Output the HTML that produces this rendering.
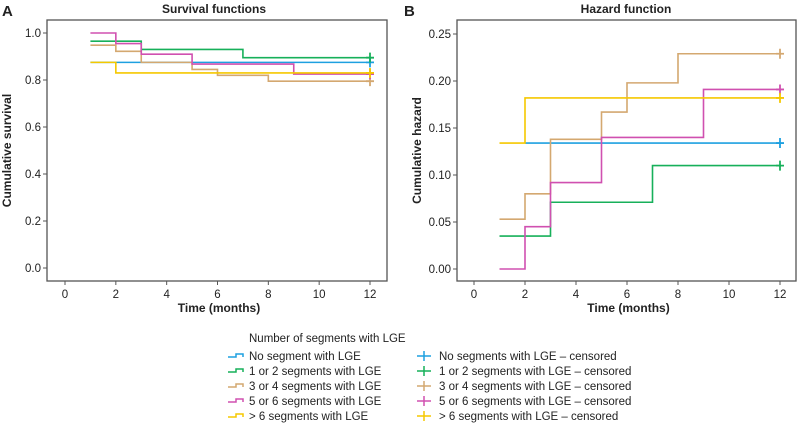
<!DOCTYPE html>
<html><head><meta charset="utf-8"><style>
body{margin:0;background:#fff;}
svg text{font-family:"Liberation Sans Narrow","Liberation Sans",sans-serif;fill:#222;}
</style></head><body>
<svg id="c" width="797" height="425" xmlns="http://www.w3.org/2000/svg">
<text x="2" y="16" font-size="15" font-weight="bold">A</text>
<text x="214" y="13" font-size="12" font-weight="bold" text-anchor="middle">Survival functions</text>
<text x="404" y="16" font-size="15" font-weight="bold">B</text>
<text x="626" y="13" font-size="12" font-weight="bold" text-anchor="middle">Hazard function</text>
<g id="gA"></g>
<g id="gB"></g>
<g id="leg">
<text x="249" y="342" font-size="11.5">Number of segments with LGE</text>
</g>
</svg>
<script>
const colors=['#1ea0e0','#17b05a','#d4a870','#d050b0','#f5c800'];
const names=['No segment with LGE','1 or 2 segments with LGE','3 or 4 segments with LGE','5 or 6 segments with LGE','> 6 segments with LGE'];
const censNames=['No segments with LGE – censored','1 or 2 segments with LGE – censored','3 or 4 segments with LGE – censored','5 or 6 segments with LGE – censored','> 6  segments with LGE – censored'];
const xTicks=[0,2,4,6,8,10,12];
const survTicks=[0.0,0.2,0.4,0.6,0.8,1.0];
const hazTicks=[0.00,0.05,0.10,0.15,0.20,0.25];
const survBlueT=[1,12], survBlueV=[0.875,0.875];
const survGreenT=[1,3,7,12], survGreenV=[0.965,0.93,0.895,0.895];
const survTanT=[1,2,3,5,6,8,12], survTanV=[0.948,0.922,0.875,0.845,0.82,0.795,0.795];
const survPinkT=[1,2,3,5,9,12], survPinkV=[1.0,0.955,0.91,0.868,0.825,0.825];
const survYellowT=[1,2,12], survYellowV=[0.875,0.83,0.83];
const hazBlueT=[2,12], hazBlueV=[0.134,0.134];
const hazGreenT=[1,3,7,12], hazGreenV=[0.035,0.071,0.110,0.110];
const hazTanT=[1,2,3,5,6,8,12], hazTanV=[0.053,0.080,0.138,0.167,0.198,0.229,0.229];
const hazPinkT=[1,2,3,5,9,12], hazPinkV=[0.0,0.045,0.092,0.140,0.191,0.191];
const hazYellowT=[1,2,12], hazYellowV=[0.134,0.182,0.182];
const NS='http://www.w3.org/2000/svg';
function mk(tag,attrs,parent){const e=document.createElementNS(NS,tag);for(const k in attrs)e.setAttribute(k,attrs[k]);parent.appendChild(e);return e;}
function chart(g,box,x0,x12,yTop,yBot,yMax,ticks,dec,ylabel,series){
  const X=v=>x0+(x12-x0)*v/12, Y=v=>yBot-(yBot-yTop)*v/yMax;
  const r=mk('rect',{x:box[0],y:box[1],width:box[2]-box[0],height:box[3]-box[1],fill:'none',stroke:'#555','stroke-width':1.3},g);
  
  
  xTicks.forEach(t=>{
    const l=mk('line',{x1:X(t),x2:X(t),y1:box[3],y2:box[3]+4,stroke:'#555'},g);
    
    
    const tx=mk('text',{x:X(t),y:box[3]+17,'font-size':11.5,'text-anchor':'middle'},g);tx.textContent=t;
    
    
  });
  ticks.forEach(t=>{
    const l=mk('line',{x1:box[0]-4,x2:box[0],y1:Y(t),y2:Y(t),stroke:'#555'},g);
    
    
    const tx=mk('text',{x:box[0]-6,y:Y(t)+4,'font-size':11.5,'text-anchor':'end'},g);tx.textContent=t.toFixed(dec);
    
    
  });
  const xt=mk('text',{x:(box[0]+box[2])/2+2,y:box[3]+31,'font-size':12,'font-weight':'bold','text-anchor':'middle'},g);xt.textContent='Time (months)';
  
  
  const cy=(box[1]+box[3])/2, cx=box[0]-36;
  const yt=mk('text',{x:cx,y:cy,'font-size':12,'font-weight':'bold','text-anchor':'middle',transform:`rotate(-90 ${cx} ${cy})`},g);yt.textContent=ylabel;
  
  
  series.forEach(([T,V,c])=>{
    let d='M'+X(T[0])+' '+Y(V[0]);
    for(let i=1;i<T.length;i++){d+=' H'+X(T[i])+' V'+Y(V[i]);}
    const p=mk('path',{d:d,fill:'none',stroke:c,'stroke-width':1.6},g);
    
    
    const ex=X(T[T.length-1]), ey=Y(V[V.length-1]);
    const m=mk('path',{d:`M${ex-4} ${ey} H${ex+4} M${ex} ${ey-5} V${ey+5}`,stroke:c,'stroke-width':1.8},g);
    
    
  });
}
chart(document.getElementById('gA'),[47,20,387,281],65,370,33,268,1.0,survTicks,1,'Cumulative survival',
 [[survBlueT,survBlueV,colors[0]],[survGreenT,survGreenV,colors[1]],[survTanT,survTanV,colors[2]],[survPinkT,survPinkV,colors[3]],[survYellowT,survYellowV,colors[4]]]);
chart(document.getElementById('gB'),[457,20,796,281],474,780,34,269,0.25,hazTicks,2,'Cumulative hazard',
 [[hazBlueT,hazBlueV,colors[0]],[hazGreenT,hazGreenV,colors[1]],[hazTanT,hazTanV,colors[2]],[hazPinkT,hazPinkV,colors[3]],[hazYellowT,hazYellowV,colors[4]]]);
const leg=document.getElementById('leg');
const rows=[357,372,387,402,417];
rows.forEach((y,i)=>{
  const a=mk('path',{d:`M228 ${y} H236 V${y-3} H243 V${y}`,fill:'none',stroke:colors[i],'stroke-width':1.5},leg);
  
  
  const t=mk('text',{x:249,y:y+3,'font-size':11.5},leg);t.textContent=names[i];
  
  
  const b=mk('path',{d:`M417 ${y-1} H431 M424 ${y-6} V${y+4}`,stroke:colors[i],'stroke-width':1.5},leg);
  
  
  const t2=mk('text',{x:439,y:y+3,'font-size':11.5},leg);t2.textContent=censNames[i];
  
  
});
</script>
</body></html>
